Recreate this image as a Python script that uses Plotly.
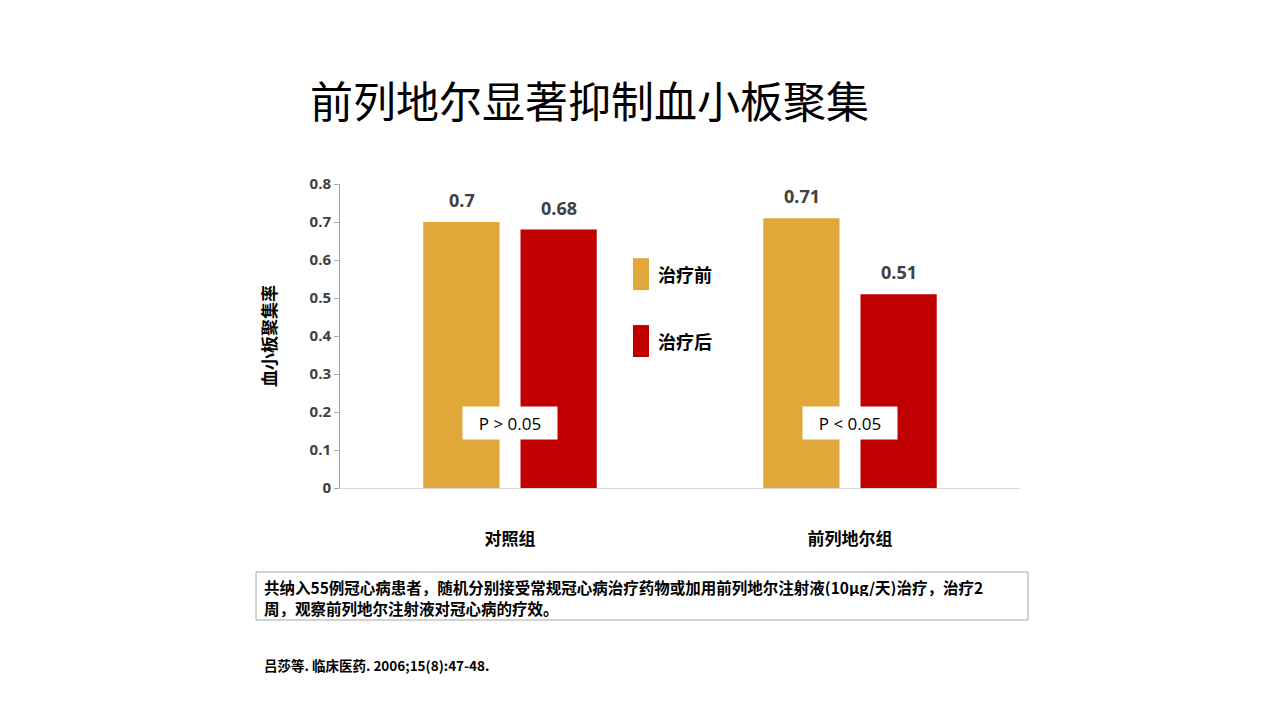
import plotly.graph_objects as go

categories = ["对照组", "前列地尔组"]
series_names = ["治疗前", "治疗后"]
before_vals = [0.70, 0.71]
after_vals = [0.68, 0.51]
colors = ["#E0A838", "#C00000"]
y_ticks = [0, 0.1, 0.2, 0.3, 0.4, 0.5, 0.6, 0.7, 0.8]
p_labels = ["P > 0.05", "P < 0.05"]

title_text = "前列地尔显著抑制血小板聚集"
y_title = "血小板聚集率"
note_lines = ["共纳入55例冠心病患者，随机分别接受常规冠心病治疗药物或加用前列地尔注射液(10μg/天)治疗，治疗2",
              "周，观察前列地尔注射液对冠心病的疗效。"]
ref_text = "吕莎等. 临床医药. 2006;15(8):47-48."

CJK = "Noto Sans CJK SC"

fig = go.Figure()
for name, vals, col in zip(series_names, [before_vals, after_vals], colors):
    fig.add_trace(go.Bar(
        x=categories, y=vals, name=name, marker=dict(color=col, line=dict(width=0)),
        showlegend=False,
    ))

# value labels above bars
offsets = [-48.5, 48.5]
for vals, off in zip([before_vals, after_vals], offsets):
    for cat, v in zip(categories, vals):
        fig.add_annotation(x=cat, y=v, text=f"{v:g}", xref="x", yref="y", showarrow=False,
                           xshift=off, yshift=22, yanchor="middle",
                           font=dict(family="Open Sans", size=18, color="#404040", weight="bold"))

fig.update_layout(
    width=1280, height=720,
    margin=dict(l=340, r=260, t=184, b=232),
    paper_bgcolor="white", plot_bgcolor="white",
    barmode="group", bargap=0.428, bargroupgap=0.216,
    font=dict(family=CJK, color="black"),
    xaxis=dict(
        showline=True, linecolor="#D9D9D9", linewidth=1,
        ticks="", showgrid=False,
        tickfont=dict(family=CJK, size=17, color="black", weight="bold"),
        ticklabelstandoff=36,
    ),
    yaxis=dict(
        range=[0, 0.8], tickvals=y_ticks, ticktext=[f"{v:g}" for v in y_ticks],
        showline=True, linecolor="#A6A6A6", linewidth=1,
        ticks="outside", ticklen=5, tickcolor="#A6A6A6",
        showgrid=False, zeroline=False,
        tickfont=dict(family="Open Sans", size=15, color="#404040", weight="bold"),
        title=dict(text=y_title, font=dict(family=CJK, size=17, color="black", weight="bold"),
                   standoff=28),
    ),
)

# Title
fig.add_annotation(text=title_text, xref="paper", yref="paper", x=(308 - 340) / 680, y=1.0,
                   xanchor="left", yanchor="bottom", yshift=52, showarrow=False,
                   font=dict(family=CJK, size=43, color="black"))

# Legend (custom)
for i, (name, col) in enumerate(zip(series_names, colors)):
    y0 = 0.756 - i * 0.22
    fig.add_shape(type="rect", xref="paper", yref="paper",
                  x0=(633 - 340) / 680, x1=(649 - 340) / 680,
                  y0=y0 - 0.105, y1=y0, fillcolor=col, line=dict(width=0))
    fig.add_annotation(text=name, xref="paper", yref="paper",
                       x=(656 - 340) / 680, y=y0 - 0.0525, xanchor="left", yanchor="middle",
                       showarrow=False,
                       font=dict(family=CJK, size=18, color="black", weight="bold"))

# P-value boxes
for cat, p in zip(categories, p_labels):
    fig.add_annotation(text=p, x=cat, y=0.17, xref="x", yref="y", showarrow=False,
                       bgcolor="white", borderpad=7, width=80, height=18,
                       font=dict(family="Open Sans", size=17, color="black"))

# Note box
fig.add_shape(type="rect", xref="paper", yref="paper",
              x0=(256 - 340) / 680, x1=(1028 - 340) / 680,
              y0=(488 - 620) / 304, y1=(488 - 572) / 304,
              line=dict(color="#A6A6A6", width=1), fillcolor="white")
for line, ypx in zip(note_lines, [586, 607]):
    fig.add_annotation(text=line, xref="paper", yref="paper",
                       x=(262 - 340) / 680, y=(488 - ypx) / 304, xanchor="left", yanchor="middle",
                       align="left", showarrow=False, height=19, valign="middle",
                       font=dict(family=CJK, size=15.5, color="black", weight="bold"))
fig.add_annotation(text=ref_text, xref="paper", yref="paper",
                   x=(262 - 340) / 680, y=(488 - 665) / 304, xanchor="left", yanchor="middle",
                   align="left", showarrow=False,
                   font=dict(family=CJK, size=13.5, color="black", weight="bold"))

fig.write_html("out.html")
